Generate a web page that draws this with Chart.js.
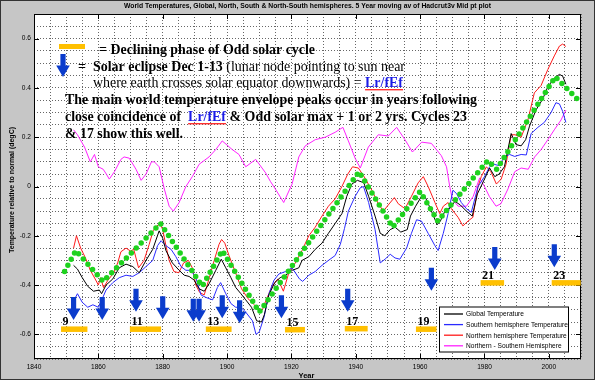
<!DOCTYPE html>
<html><head><meta charset="utf-8">
<script src="https://cdn.jsdelivr.net/npm/chart.js@4.4.1/dist/chart.umd.min.js"></script>
<style>html,body{margin:0;padding:0;background:#c6c6c6;}canvas{display:block;}</style>
</head><body>
<canvas id="c" width="595" height="380"></canvas>
<script>
// ---------------- DATA ----------------
const seriesLabels = ['Global Temperature','Southern hemisphere Temperature','Northern hemisphere Temperature','Northern - Southern Hemisphere'];

const globalYears = [1852.3,1853.5,1855,1856.7,1858.5,1860.3,1861,1862.4,1864.5,1866.5,1868.6,1870.7,1872.7,1874.8,1876.9,1878.9,1880,1881,1883,1885.1,1886.7,1888.2,1889.8,1891.3,1892.9,1894.4,1896.5,1898.2,1899.6,1901.2,1902.7,1904.3,1905.8,1907.6,1909.2,1910.7,1911.6,1913,1914.8,1916.5,1918.2,1920.3,1922.3,1923.3,1925.4,1927.4,1929.5,1931.5,1933.6,1935.7,1937.2,1938.8,1940.5,1942.5,1944,1946,1947.6,1949,1950.7,1952.2,1954,1956,1957,1958.6,1960.2,1961.5,1963.2,1965.3,1966.3,1967.7,1969.5,1970.8,1972.5,1974.4,1976.2,1977.8,1980,1981.6,1983.2,1984.5,1986.2,1988.3,1989.8,1991.4,1992.8,1994,1996,1998.1,1999.7,2001.7,2003.3,2004.3,2005.3];
const globalVals  = [-0.32,-0.335,-0.37,-0.405,-0.425,-0.42,-0.435,-0.40,-0.375,-0.33,-0.315,-0.325,-0.35,-0.30,-0.255,-0.18,-0.21,-0.26,-0.31,-0.34,-0.36,-0.365,-0.38,-0.415,-0.425,-0.395,-0.34,-0.295,-0.33,-0.37,-0.41,-0.435,-0.46,-0.49,-0.545,-0.55,-0.52,-0.44,-0.39,-0.37,-0.36,-0.34,-0.33,-0.30,-0.285,-0.255,-0.23,-0.19,-0.15,-0.11,-0.04,0.01,0.025,0.015,-0.04,-0.12,-0.19,-0.20,-0.175,-0.165,-0.185,-0.175,-0.12,-0.08,-0.045,-0.04,-0.09,-0.155,-0.14,-0.10,-0.085,-0.06,-0.075,-0.10,-0.12,-0.03,0.03,0.075,0.04,0.05,0.08,0.215,0.17,0.165,0.19,0.245,0.31,0.355,0.405,0.44,0.455,0.448,0.415];

const southYears = [1852.3,1853.5,1855,1856.7,1858.3,1860,1860.9,1862.4,1864.5,1866.5,1868.6,1870.7,1872.7,1874.8,1876.9,1878.4,1879.5,1881,1882.6,1884.1,1885.7,1887.2,1888.8,1890.3,1891.9,1893.4,1895.5,1897,1898,1899.6,1901.2,1902.7,1904.3,1905.8,1907.9,1909,1910,1911.5,1913,1914.6,1916.1,1918.2,1920.2,1922.5,1923.5,1925.4,1927.4,1929.5,1931.5,1933.6,1935.2,1936.5,1937.7,1939.8,1941.4,1942.4,1944,1946,1947.6,1949.1,1950.7,1952.2,1953.7,1955.8,1957.3,1958.9,1960.4,1962.5,1964.6,1965.6,1967.2,1968.7,1970.2,1971.4,1972.8,1974.4,1975.9,1978,1980,1981.6,1983,1984.5,1986.2,1987.8,1989.4,1991.4,1993,1994.5,1996.6,1998.6,2000.7,2002.2,2003.3,2004.3,2005.3];
const southVals  = [-0.465,-0.435,-0.47,-0.49,-0.48,-0.49,-0.465,-0.42,-0.39,-0.37,-0.36,-0.365,-0.35,-0.325,-0.30,-0.24,-0.22,-0.24,-0.255,-0.285,-0.325,-0.34,-0.34,-0.37,-0.44,-0.45,-0.46,-0.41,-0.39,-0.435,-0.475,-0.49,-0.49,-0.51,-0.545,-0.60,-0.59,-0.53,-0.435,-0.38,-0.355,-0.345,-0.33,-0.375,-0.385,-0.36,-0.345,-0.32,-0.30,-0.28,-0.235,-0.17,-0.10,-0.04,-0.005,0.0,-0.065,-0.175,-0.31,-0.295,-0.275,-0.29,-0.295,-0.25,-0.19,-0.135,-0.14,-0.19,-0.24,-0.26,-0.19,-0.11,-0.015,-0.03,-0.065,-0.09,-0.105,0.0,0.04,0.08,0.09,0.085,0.12,0.13,0.122,0.13,0.128,0.215,0.24,0.26,0.30,0.34,0.335,0.305,0.26];

const northYears = [1852.3,1853.2,1854.5,1856,1857.5,1859,1860,1860.7,1861.6,1863,1864.8,1866,1867,1868.6,1870,1871,1872.5,1874.2,1875.8,1877,1878.2,1879.2,1880,1881,1882,1883.5,1885,1886.5,1888,1889.2,1890.3,1891.5,1892.9,1894.5,1896,1897.5,1898.3,1899.3,1900.6,1902.5,1904.5,1906.5,1908.5,1910.2,1911,1912,1914,1915.8,1917.5,1919.2,1921.2,1923.3,1925.4,1927.4,1929.5,1931.5,1933.6,1935.7,1937.5,1939,1940.8,1942.6,1945,1947,1948.6,1950.1,1952,1953.2,1955.3,1957.3,1959.4,1961,1962.5,1964.6,1966.1,1967.2,1968.7,1969.7,1971.8,1973.3,1974.9,1976.4,1978,1979,1980.6,1982,1983.7,1985.2,1986.7,1988.3,1989.5,1991.4,1993.5,1995.5,1997.6,1999.7,2001.7,2003.3,2004.3,2005.3];
const northVals  = [-0.25,-0.20,-0.25,-0.29,-0.34,-0.375,-0.40,-0.37,-0.41,-0.38,-0.35,-0.31,-0.265,-0.25,-0.262,-0.255,-0.33,-0.30,-0.235,-0.18,-0.16,-0.15,-0.175,-0.24,-0.30,-0.345,-0.35,-0.31,-0.30,-0.33,-0.40,-0.43,-0.44,-0.37,-0.30,-0.235,-0.215,-0.23,-0.28,-0.345,-0.415,-0.455,-0.48,-0.51,-0.50,-0.465,-0.405,-0.375,-0.425,-0.35,-0.31,-0.26,-0.20,-0.165,-0.12,-0.08,-0.05,0.0,0.05,0.08,0.075,0.04,-0.015,-0.07,-0.10,-0.075,-0.045,-0.07,-0.09,-0.04,0.015,0.04,0.0,-0.065,-0.11,-0.08,-0.065,-0.09,-0.125,-0.16,-0.14,-0.125,0.0,0.04,0.08,0.06,0.01,0.03,0.09,0.21,0.21,0.20,0.27,0.38,0.41,0.475,0.53,0.57,0.578,0.568];

const diffYears = [1852.3,1853.5,1855.7,1857.5,1858.8,1860,1861.5,1862.5,1863.4,1865,1867,1868,1869.6,1871.7,1873.3,1874.8,1876.5,1877.4,1878.9,1880.5,1882,1883.3,1885.1,1887.2,1889.2,1891.3,1894.4,1896.5,1898.5,1901.6,1903.7,1905.8,1908.9,1912,1913.5,1915,1917.6,1920.2,1922.3,1924.3,1927.4,1930.5,1933.6,1936,1937.7,1939.8,1941.4,1943.9,1947,1950.1,1952.7,1955.3,1957.6,1960.5,1963.5,1966.6,1968.2,1969.2,1970,1971.8,1974.4,1976.5,1978.5,1980,1981.5,1983.6,1985.1,1987.3,1989.4,1991.4,1993.6,1995.6,1997.6,1999.7,2001.7,2003.8,2005.3];
const diffVals  = [0.23,0.21,0.16,0.10,0.13,0.08,0.07,0.05,0.03,0.06,0.11,0.12,0.115,0.07,0.025,0.05,0.10,0.10,0.08,-0.01,-0.08,-0.10,-0.065,0.0,0.04,0.09,0.12,0.15,0.185,0.15,0.13,0.08,0.11,0.055,0.02,-0.01,-0.065,0.01,0.12,0.165,0.19,0.20,0.22,0.24,0.185,0.115,0.075,0.16,0.21,0.205,0.24,0.19,0.14,0.18,0.175,0.125,0.08,0.0,-0.05,-0.08,-0.08,-0.04,0.035,0.0,-0.04,-0.08,-0.07,-0.01,0.06,0.075,0.07,0.12,0.15,0.19,0.23,0.27,0.31];

// Green "main world temperature envelope"
const envYears = [1849.5,1853,1861.5,1879.3,1892.3,1898.5,1910,1941,1951.5,1960,1965.5,1981,1983.8,2002,2010];
const envVals  = [-0.345,-0.26,-0.385,-0.15,-0.405,-0.26,-0.51,0.06,-0.165,-0.02,-0.14,0.105,0.07,0.445,0.34];

// Declining phase of odd solar cycles (yellow bars)
const cycleLabels = ['9','11','13','15','17','19','21','23'];
const cycleStart  = [1848.4,1869.8,1893.4,1918,1936.6,1958.7,1978.8,2000.9];
const cycleEnd    = [1856.6,1879.5,1901.4,1924.2,1943.7,1965.1,1986.1,2009.9];
const cycleLevel  = [-0.578,-0.578,-0.578,-0.58,-0.576,-0.578,-0.39,-0.39];

// Solar eclipses Dec 1-13 (blue arrows): year, tip value
const eclipseYears = [1852.3,1861.2,1871.7,1880,1889.5,1891.3,1898.5,1903.9,1916.9,1937.5,1963.5,1983.2,2001.7];
const eclipseTips  = [-0.542,-0.542,-0.508,-0.539,-0.549,-0.549,-0.535,-0.555,-0.535,-0.508,-0.423,-0.339,-0.328];

const xMajor = [1840,1860,1880,1900,1920,1940,1960,1980,2000];
const yMajor = [-0.6,-0.4,-0.2,0,0.2,0.4,0.6];

// ---------------- HELPERS ----------------
function pts(xs, ys){ return xs.map((x,i)=>({x:x, y:ys[i]})); }
const BG = '#c6c6c6';
const SANS = '"Liberation Sans", Arial, sans-serif';
const SERIF = '"Liberation Serif", "Times New Roman", serif';

function fitText(ctx, text, x, y, target, align){
  const w = ctx.measureText(text).width;
  const s = target / w;
  ctx.save();
  ctx.translate(x, y);
  ctx.scale(s, 1);
  ctx.textAlign = align || 'left';
  ctx.fillText(text, 0, 0);
  ctx.restore();
}
function drawArrow(ctx, x, tipY){
  const h = 23, headH = 11.5, headW = 6.8, shaftW = 2.6;
  ctx.beginPath();
  ctx.moveTo(x - shaftW, tipY - h);
  ctx.lineTo(x + shaftW, tipY - h);
  ctx.lineTo(x + shaftW, tipY - headH);
  ctx.lineTo(x + headW, tipY - headH);
  ctx.lineTo(x, tipY);
  ctx.lineTo(x - headW, tipY - headH);
  ctx.lineTo(x - shaftW, tipY - headH);
  ctx.closePath();
  ctx.fill();
}
// draw a line of styled runs, horizontally fitted so it spans x..xEnd
function drawRuns(ctx, x, xEnd, y, runs){
  ctx.textBaseline = 'alphabetic';
  ctx.textAlign = 'left';
  let total = 0;
  const ws = runs.map(r=>{ ctx.font = r.font; const w = ctx.measureText(r.t).width; total += w; return w; });
  const s = (xEnd - x) / total;
  ctx.save();
  ctx.translate(x, y);
  ctx.scale(s, 1);
  let cx = 0;
  runs.forEach((r,i)=>{
    ctx.font = r.font;
    ctx.fillStyle = r.color || '#000';
    ctx.fillText(r.t, cx, 0);
    if (r.underline){
      ctx.fillStyle = r.underline;
      ctx.fillRect(cx, 2, ws[i], 1.4);
    }
    cx += ws[i];
  });
  ctx.restore();
}

const overlay = {
  id: 'overlay',
  beforeDraw(chart){
    const {ctx, chartArea:a, width, height} = chart;
    ctx.save();
    ctx.fillStyle = BG;
    ctx.fillRect(0,0,width,height);
    ctx.fillStyle = '#fff';
    ctx.fillRect(a.left, a.top, a.right-a.left, a.bottom-a.top);
    ctx.restore();
  },
  afterDraw(chart){
    const {ctx, chartArea:a, width, height} = chart;
    const xs = chart.scales.x, ys = chart.scales.y;
    ctx.save();
    // plot frame
    ctx.strokeStyle = '#000'; ctx.lineWidth = 1;
    ctx.strokeRect(a.left+0.5, a.top+0.5, a.right-a.left-1, a.bottom-a.top-1);
    // major ticks inward
    ctx.beginPath();
    xMajor.forEach(v=>{ const px = Math.round(xs.getPixelForValue(v))+0.5;
      ctx.moveTo(px, a.bottom); ctx.lineTo(px, a.bottom-5);
      ctx.moveTo(px, a.top); ctx.lineTo(px, a.top+5); });
    yMajor.forEach(v=>{ const py = Math.round(ys.getPixelForValue(v))+0.5;
      ctx.moveTo(a.left, py); ctx.lineTo(a.left+5, py);
      ctx.moveTo(a.right, py); ctx.lineTo(a.right-5, py); });
    ctx.stroke();

    // yellow bars + cycle numbers
    cycleLabels.forEach((lab,i)=>{
      const x1 = xs.getPixelForValue(cycleStart[i]), x2 = xs.getPixelForValue(cycleEnd[i]);
      const y = ys.getPixelForValue(cycleLevel[i]);
      ctx.fillStyle = '#ffc000';
      ctx.fillRect(x1, y-2.5, x2-x1, 5.5);
      ctx.fillStyle = '#000';
      ctx.font = 'bold 12px ' + SERIF;
      ctx.textAlign = 'left'; ctx.textBaseline = 'alphabetic';
      ctx.fillText(lab, x1+1.5, y-3.5);
    });
    // blue arrows
    ctx.fillStyle = '#0b3ccc';
    eclipseYears.forEach((yr,i)=>{
      drawArrow(ctx, xs.getPixelForValue(yr), ys.getPixelForValue(eclipseTips[i]));
    });

    // annotation text block
    ctx.fillStyle = '#ffc000';
    ctx.fillRect(59, 44, 26, 5);
    ctx.fillStyle = '#0b3ccc';
    drawArrow(ctx, 63, 77);
    const B = 'bold 14px ' + SERIF, N = '14px ' + SERIF;
    const BLUE = '#1a1ae6', RED = '#ff3030';
    drawRuns(ctx, 99, 315, 54, [{t:'= Declining phase of Odd solar cycle', font:B}]);
    drawRuns(ctx, 78, 86, 71, [{t:'=', font:B}]);
    drawRuns(ctx, 93, 405, 71, [{t:'Solar eclipse Dec 1-13', font:B},{t:' (lunar node pointing to sun near', font:N}]);
    drawRuns(ctx, 93, 403, 87, [{t:'where earth crosses solar equator downwards) = ', font:N},{t:'Lr/fEf', font:B, color:BLUE, underline:RED}]);
    drawRuns(ctx, 65, 477, 104, [{t:'The main world temperature envelope peaks occur in years following', font:B}]);
    drawRuns(ctx, 65, 467, 121, [{t:'close coincidence of  ', font:B},{t:'Lr/fEf', font:B, color:BLUE, underline:RED},{t:' & Odd solar max + 1 or 2 yrs. Cycles 23', font:B}]);
    drawRuns(ctx, 65, 183, 138, [{t:'& 17 show this well.', font:B}]);

    // legend box
    const lx = 439, ly = 306.5, lw = 130, lh = 46;
    ctx.fillStyle = '#fff';
    ctx.fillRect(lx, ly, lw, lh);
    ctx.strokeStyle = '#000'; ctx.lineWidth = 1;
    ctx.strokeRect(lx+0.5, ly+0.5, lw-1, lh-1);
    const ds = chart.data.datasets.slice(1);
    ds.forEach((d,i)=>{
      const ry = 314 + i*10.6;
      ctx.strokeStyle = d.borderColor; ctx.lineWidth = 1.3;
      ctx.beginPath(); ctx.moveTo(444, ry); ctx.lineTo(463, ry); ctx.stroke();
      ctx.fillStyle = '#000';
      ctx.font = '6.6px ' + SANS;
      ctx.textAlign = 'left'; ctx.textBaseline = 'middle';
      ctx.fillText(d.label, 466, ry+0.5);
    });

    // title
    ctx.fillStyle = '#000';
    ctx.font = 'bold 7px ' + SANS;
    ctx.textBaseline = 'middle';
    fitText(ctx, 'World Temperatures, Global, North, South & North-South hemispheres. 5 Year moving av of Hadcrut3v Mid pt plot', 307.5, 6.5, 367, 'center');
    // axis titles
    ctx.font = 'bold 7px ' + SANS;
    ctx.save();
    ctx.translate(12.5, 190);
    ctx.rotate(-Math.PI/2);
    fitText(ctx, 'Temperature relative to normal (degC)', 0, 0, 126, 'center');
    ctx.restore();
    ctx.font = 'bold 7.5px ' + SANS;
    ctx.textAlign = 'center';
    ctx.fillText('Year', 306.5, 376);
    // outer frame
    ctx.strokeStyle = '#333'; ctx.lineWidth = 1;
    ctx.strokeRect(0.5, 0.5, width-1, height-1);
    ctx.restore();
  }
};

function lineDs(label, xs, ys, color){
  return {label, data: pts(xs, ys), borderColor: color, backgroundColor: color, borderWidth: 1, pointRadius: 0, tension: 0, fill: false};
}

const grid = { color: '#666', lineWidth: 1, drawTicks: false };
const border = { display: false, dash: [1, 2] };

new Chart(document.getElementById('c'), {
  type: 'line',
  data: {
    datasets: [
      {label: 'envelope', data: pts(envYears, envVals), borderColor: '#1ed21e', borderWidth: 5.5, borderDash: [0, 7], borderCapStyle: 'round', pointRadius: 0, tension: 0, fill: false},
      lineDs(seriesLabels[0], globalYears, globalVals, '#000000'),
      lineDs(seriesLabels[1], southYears, southVals, '#2a2aff'),
      lineDs(seriesLabels[2], northYears, northVals, '#ff1a1a'),
      lineDs(seriesLabels[3], diffYears, diffVals, '#ff22ff')
    ]
  },
  options: {
    responsive: false,
    animation: false,
    devicePixelRatio: 1,
    events: [],
    layout: { padding: { top: 14, right: 14, left: 0, bottom: 0 } },
    plugins: { legend: { display: false }, tooltip: { enabled: false }, title: { display: false } },
    scales: {
      x: {
        type: 'linear', min: 1840, max: 2010,
        afterBuildTicks: s => { const t = []; for (let v = 1840; v <= 2010; v += 5) t.push({value: v}); s.ticks = t; },
        afterFit: s => { s.height = 21; },
        ticks: { autoSkip: false, maxRotation: 0, padding: 4, color: '#000', font: { size: 6.6, family: SANS },
          callback: v => (xMajor.includes(v) ? String(v) : '') },
        grid, border
      },
      y: {
        type: 'linear', min: -0.7, max: 0.7,
        afterBuildTicks: s => { const t = []; for (let k = -14; k <= 14; k++) t.push({value: k/20}); s.ticks = t; },
        afterFit: s => { s.width = 34; },
        ticks: { autoSkip: false, padding: 3, color: '#000', font: { size: 6.6, family: SANS },
          callback: v => { const k = Math.round(v*10); return (Math.abs(v*10 - k) < 1e-6 && k % 2 === 0) ? (k === 0 ? '0' : (k/10).toFixed(1)) : ''; } },
        grid, border
      }
    }
  },
  plugins: [overlay]
});
</script>
</body></html>
